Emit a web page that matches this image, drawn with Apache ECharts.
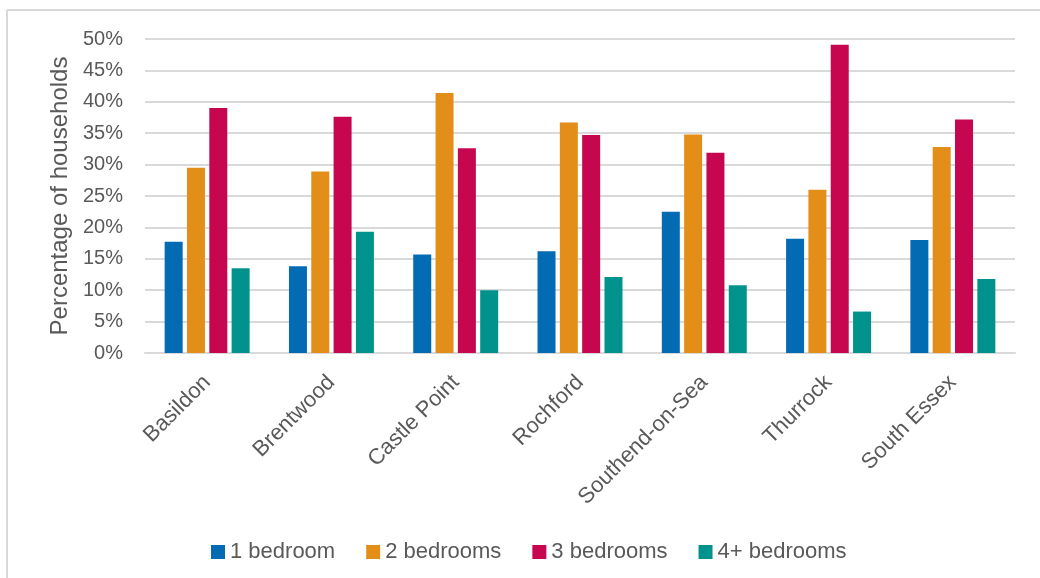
<!DOCTYPE html>
<html>
<head>
<meta charset="utf-8">
<script src="https://cdn.jsdelivr.net/npm/echarts@6/dist/echarts.min.js"></script>
<style>
html,body{margin:0;padding:0;background:#fff;}
#chart{width:1040px;height:578px;}
</style>
</head>
<body>
<div id="chart"></div>
<script>
const categories = ['Basildon', 'Brentwood', 'Castle Point', 'Rochford', 'Southend-on-Sea', 'Thurrock', 'South Essex'];
const seriesNames = ['1 bedroom', '2 bedrooms', '3 bedrooms', '4+ bedrooms'];
const oneBedroom = [17.7, 13.8, 15.7, 16.2, 22.5, 18.2, 18.0];
const twoBedrooms = [29.5, 28.9, 41.4, 36.7, 34.8, 26.0, 32.8];
const threeBedrooms = [39.0, 37.6, 32.6, 34.7, 31.9, 49.1, 37.2];
const fourPlusBedrooms = [13.5, 19.3, 10.0, 12.1, 10.8, 6.6, 11.8];
const colors = ['#036BB4', '#E48E1A', '#C6074F', '#00938D'];

const textColor = '#595959';
const font = 'Liberation Sans';
const allData = [oneBedroom, twoBedrooms, threeBedrooms, fourPlusBedrooms];

const chart = echarts.init(document.getElementById('chart'), null, {renderer: 'canvas'});
chart.setOption({
  animation: false,
  backgroundColor: '#fff',
  color: colors,
  textStyle: {fontFamily: font},
  grid: {left: 145, right: 25, top: 39, bottom: 225, containLabel: false},
  graphic: [
    {type: 'line', shape: {x1: 7, y1: 10, x2: 1040, y2: 10}, style: {stroke: '#D9D9D9', lineWidth: 2}},
    {type: 'line', shape: {x1: 7, y1: 10, x2: 7, y2: 578}, style: {stroke: '#D9D9D9', lineWidth: 2}}
  ],
  legend: {
    left: 206, top: 536,
    itemWidth: 14, itemHeight: 14, itemGap: 31,
    icon: 'rect',
    textStyle: {color: textColor, fontSize: 22, fontFamily: font},
    data: seriesNames
  },
  xAxis: {
    type: 'category',
    data: categories,
    axisLine: {show: true, lineStyle: {color: '#D9D9D9', width: 2}},
    axisTick: {show: false},
    axisLabel: {rotate: 45, color: textColor, fontSize: 22, fontFamily: font, margin: 26, interval: 0}
  },
  yAxis: {
    type: 'value',
    min: 0, max: 50, interval: 5,
    name: 'Percentage of households',
    nameLocation: 'middle',
    nameGap: 73,
    nameTextStyle: {color: textColor, fontSize: 24, fontFamily: font},
    axisLine: {show: false},
    axisTick: {show: false},
    axisLabel: {formatter: '{value}%', color: textColor, fontSize: 20, fontFamily: font, margin: 22},
    splitLine: {lineStyle: {color: '#D9D9D9', width: 2}}
  },
  series: seriesNames.map((name, i) => ({
    name: name,
    type: 'bar',
    data: allData[i],
    barWidth: 18,
    barGap: '24%',
    itemStyle: {color: colors[i]}
  }))
});
</script>
</body>
</html>
